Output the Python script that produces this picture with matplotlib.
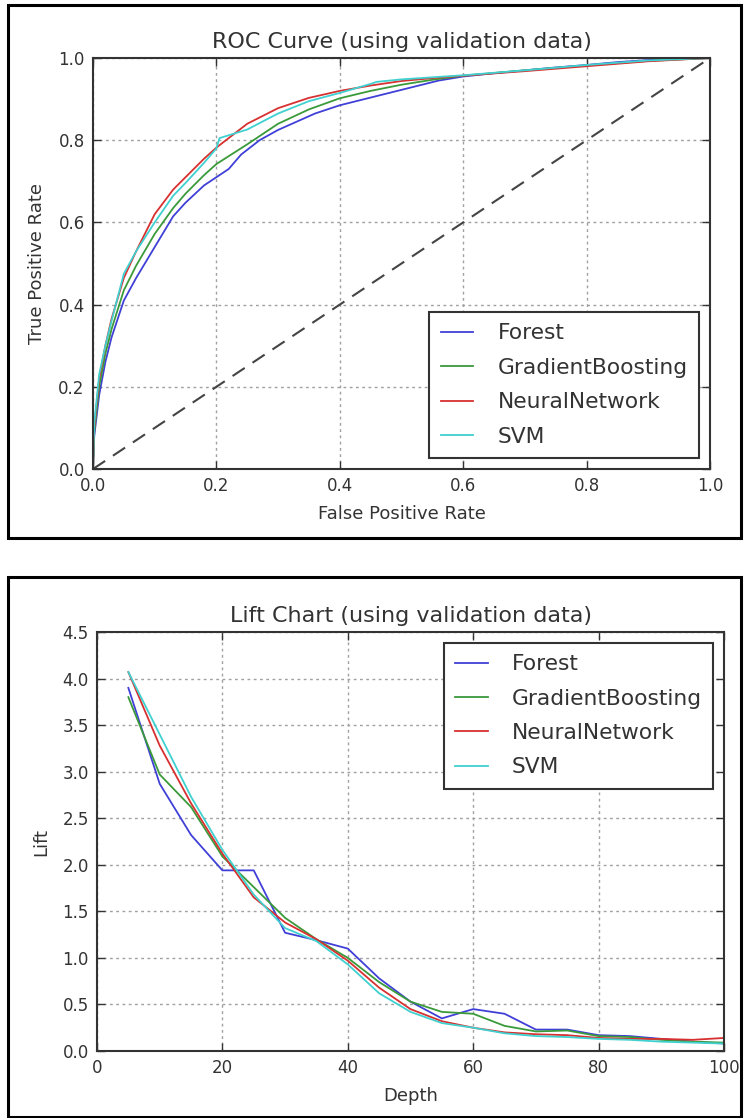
import matplotlib
matplotlib.use("Agg")
import matplotlib.pyplot as plt
from matplotlib.patches import Rectangle

plt.rcParams['font.family'] = ['DejaVu Sans']

# ---------------- data ----------------
models = ["Forest", "GradientBoosting", "NeuralNetwork", "SVM"]
colors = ["#4040d8", "#3a9a3a", "#d83030", "#40d0d0"]

roc_fpr_forest = [0, 0.002, 0.01, 0.02, 0.03, 0.05, 0.07, 0.09, 0.11, 0.13, 0.15, 0.18, 0.20, 0.22,
                  0.24, 0.27, 0.30, 0.33, 0.36, 0.40, 0.44, 0.48, 0.52, 0.56, 0.60, 0.65, 0.70, 0.75,
                  0.80, 0.85, 0.90, 0.95, 1.0]
roc_tpr_forest = [0, 0.08, 0.18, 0.26, 0.32, 0.41, 0.465, 0.515, 0.565, 0.615, 0.648, 0.69, 0.71, 0.73,
                  0.765, 0.80, 0.825, 0.845, 0.865, 0.885, 0.90, 0.915, 0.93, 0.945, 0.955, 0.963, 0.97,
                  0.977, 0.983, 0.99, 0.995, 0.998, 1.0]

roc_fpr_gb = [0, 0.002, 0.01, 0.02, 0.03, 0.05, 0.07, 0.10, 0.13, 0.15, 0.18, 0.20, 0.25, 0.30,
              0.35, 0.40, 0.45, 0.50, 0.55, 0.60, 0.70, 0.80, 0.90, 1.0]
roc_tpr_gb = [0, 0.09, 0.20, 0.28, 0.34, 0.435, 0.495, 0.572, 0.635, 0.67, 0.715, 0.742, 0.79, 0.84,
              0.875, 0.902, 0.92, 0.935, 0.947, 0.957, 0.97, 0.982, 0.993, 1.0]

roc_fpr_nn = [0, 0.002, 0.01, 0.02, 0.03, 0.05, 0.07, 0.10, 0.13, 0.15, 0.18, 0.20, 0.25, 0.30,
              0.35, 0.40, 0.45, 0.50, 0.55, 0.60, 0.70, 0.80, 0.90, 1.0]
roc_tpr_nn = [0, 0.10, 0.22, 0.30, 0.365, 0.465, 0.53, 0.62, 0.68, 0.71, 0.755, 0.782, 0.84, 0.878,
              0.903, 0.92, 0.933, 0.944, 0.951, 0.957, 0.968, 0.98, 0.992, 1.0]

roc_fpr_svm = [0, 0.002, 0.01, 0.02, 0.03, 0.05, 0.07, 0.10, 0.13, 0.15, 0.18, 0.20, 0.205, 0.22,
               0.25, 0.30, 0.35, 0.40, 0.45, 0.46, 0.50, 0.55, 0.60, 0.70, 0.80, 0.90, 1.0]
roc_tpr_svm = [0, 0.11, 0.23, 0.30, 0.36, 0.475, 0.53, 0.60, 0.665, 0.696, 0.745, 0.78, 0.805, 0.812,
               0.826, 0.865, 0.895, 0.915, 0.937, 0.942, 0.948, 0.953, 0.958, 0.97, 0.983, 0.994, 1.0]

depth = [5, 10, 15, 20, 25, 30, 35, 40, 45, 50, 55, 60, 65, 70, 75, 80, 85, 90, 95, 100]
lift_forest = [3.90, 2.87, 2.32, 1.94, 1.94, 1.27, 1.19, 1.10, 0.78, 0.53, 0.35, 0.45, 0.40, 0.23,
               0.23, 0.17, 0.16, 0.13, 0.10, 0.08]
lift_gb = [3.80, 2.97, 2.62, 2.09, 1.76, 1.43, 1.20, 1.00, 0.74, 0.53, 0.42, 0.40, 0.27, 0.21,
           0.22, 0.16, 0.15, 0.12, 0.10, 0.09]
lift_nn = [4.07, 3.28, 2.66, 2.12, 1.65, 1.38, 1.20, 0.97, 0.68, 0.45, 0.32, 0.25, 0.20, 0.18,
           0.17, 0.14, 0.13, 0.13, 0.12, 0.14]
lift_svm = [4.07, 3.40, 2.73, 2.16, 1.68, 1.32, 1.18, 0.93, 0.62, 0.42, 0.30, 0.25, 0.19, 0.16,
            0.15, 0.13, 0.12, 0.10, 0.09, 0.08]

roc_x = [roc_fpr_forest, roc_fpr_gb, roc_fpr_nn, roc_fpr_svm]
roc_y = [roc_tpr_forest, roc_tpr_gb, roc_tpr_nn, roc_tpr_svm]
lifts = [lift_forest, lift_gb, lift_nn, lift_svm]

roc_ticks = [0.0, 0.2, 0.4, 0.6, 0.8, 1.0]
lift_yticks = [0.0, 0.5, 1.0, 1.5, 2.0, 2.5, 3.0, 3.5, 4.0, 4.5]
lift_xticks = [0, 20, 40, 60, 80, 100]

# ---------------- figure ----------------
W, H = 744, 1118
fig = plt.figure(figsize=(W / 100, H / 100), dpi=100)
fig.patch.set_facecolor("white")


def px_axes(x0, y0, x1, y1):
    return fig.add_axes([x0 / W, 1 - y1 / H, (x1 - x0) / W, (y1 - y0) / H])


def style(ax):
    for s in ax.spines.values():
        s.set_color("#333333")
        s.set_linewidth(1.5)
    ax.tick_params(direction="in", length=6, width=1, color="#333333", top=True, right=True,
                   labelsize=12, labelcolor="#333333", pad=6)
    ax.grid(True, color="#a0a0a0", linestyle=(0, (2, 2.5)), linewidth=1.0)
    ax.set_axisbelow(True)


def legend(ax, loc, anchor):
    leg = ax.legend(loc=loc, bbox_to_anchor=anchor, borderaxespad=0,
                    fontsize=15.7, handlelength=1.5, handletextpad=1.1, labelspacing=0.66,
                    borderpad=0.52, fancybox=False, framealpha=1)
    leg.get_frame().set_edgecolor("#333333")
    leg.get_frame().set_linewidth(1.5)
    for t in leg.get_texts():
        t.set_color("#333333")
    return leg


# panel borders
fig.add_artist(Rectangle((8 / W, 1 - 538 / H), 733 / W, 533 / H, transform=fig.transFigure,
                         fill=False, lw=2.2, ec="black"))
fig.add_artist(Rectangle((8 / W, 1 - 1117 / H), 733 / W, 540 / H, transform=fig.transFigure,
                         fill=False, lw=2.2, ec="black"))

# ROC
ax1 = px_axes(93, 58, 710, 469)
style(ax1)
for xs, ys, c, m in zip(roc_x, roc_y, colors, models):
    ax1.plot(xs, ys, color=c, lw=1.3, label=m)
ax1.plot([0, 1], [0, 1], color="#444444", lw=1.5, dashes=(7, 4.5))
ax1.set_xlim(0, 1)
ax1.set_ylim(0, 1)
ax1.set_xticks(roc_ticks)
ax1.set_yticks(roc_ticks)
ax1.set_xticklabels([f"{t:.1f}" for t in roc_ticks])
ax1.set_yticklabels([f"{t:.1f}" for t in roc_ticks])
ax1.set_title("ROC Curve (using validation data)", fontsize=16, color="#333333", pad=7)
ax1.set_xlabel("False Positive Rate", fontsize=13, color="#333333", labelpad=7)
ax1.set_ylabel("True Positive Rate", fontsize=13, color="#333333", labelpad=9)
legend(ax1, "lower right", (0.982, 0.027))

# Lift
ax2 = px_axes(97, 632, 724, 1051)
style(ax2)
for ys, c, m in zip(lifts, colors, models):
    ax2.plot(depth, ys, color=c, lw=1.3, label=m)
ax2.set_xlim(0, 100)
ax2.set_ylim(0, 4.5)
ax2.set_xticks(lift_xticks)
ax2.set_yticks(lift_yticks)
ax2.set_yticklabels([f"{t:.1f}" for t in lift_yticks])
ax2.set_title("Lift Chart (using validation data)", fontsize=16, color="#333333", pad=7)
ax2.set_xlabel("Depth", fontsize=13, color="#333333", labelpad=7)
ax2.set_ylabel("Lift", fontsize=13, color="#333333", labelpad=9)
legend(ax2, "upper right", (0.9825, 0.974))

fig.savefig("out.png", dpi=100)
